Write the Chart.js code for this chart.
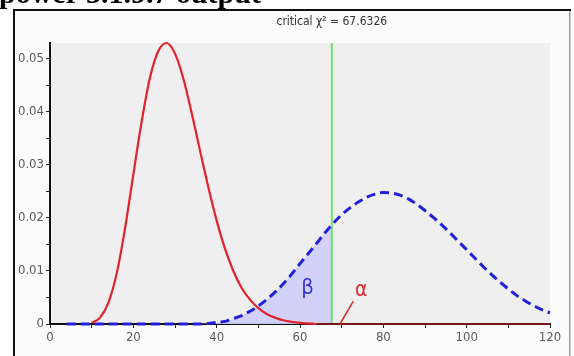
<!DOCTYPE html>
<html>
<head>
<meta charset="utf-8">
<script src="https://cdn.jsdelivr.net/npm/chart.js@4/dist/chart.umd.min.js"></script>
<style>
  html, body { margin: 0; padding: 0; background: #ffffff; }
  #wrap { position: relative; width: 574px; height: 356px; overflow: hidden; background: #ffffff; }
  #title { position: absolute; left: -1px; top: -22px; font-family: 'Liberation Serif', 'Times New Roman', serif; font-weight: bold; font-size: 30px; color: #000; white-space: nowrap; line-height: 29px; }
  canvas { position: absolute; left: 0; top: 0; }
</style>
</head>
<body>
<div id="wrap">
  <canvas id="c" width="574" height="356"></canvas>
  <div id="title">power 3.1.9.7 output</div>
</div>
<script>
// ---- data ----
const xValues = [0,2,4,6,8,10,12,14,16,18,20,22,24,26,28,30,32,34,36,38,40,42,44,46,48,50,52,54,56,58,60,62,64,66,68,70,72,74,76,78,80,82,84,86,88,90,92,94,96,98,100,102,104,106,108,110,112,114,116,118,120];
// central distribution (H0), red
const nullDensity = [null,null,null,null,null,0.0002,0.0012,0.0040,0.0095,0.0180,0.0282,0.0382,0.0465,0.0515,0.0530,0.0510,0.0463,0.0398,0.0327,0.0258,0.0195,0.0142,0.0100,0.0068,0.0046,0.0030,0.0019,0.0012,0.0007,0.0004,0.0002,0.0001,0,0,0,0,0,0,0,0,0,0,0,0,0,0,0,0,0,0,0,0,0,0,0,0,0,0,0,0,0];
// noncentral distribution (H1), blue dashed
const altDensity = [null,null,0,0,0,0,0,0,0,0,0,0,0,0,0,0,0,0,0,0.0001,0.0003,0.0005,0.0010,0.0016,0.0024,0.0034,0.0046,0.0060,0.0076,0.0094,0.0114,0.0133,0.0152,0.0172,0.0190,0.0206,0.0219,0.0230,0.0239,0.0245,0.0248,0.0247,0.0243,0.0236,0.0226,0.0214,0.0201,0.0187,0.0172,0.0156,0.0140,0.0124,0.0108,0.0093,0.0079,0.0066,0.0054,0.0044,0.0035,0.0027,0.0021];
const criticalX = 67.6326;
const altAtCritical = 0.0189;
const yTickLabels = ['0','0.01','0.02','0.03','0.04','0.05'];
const xTickLabels = ['0','20','40','60','80','100','120'];
const criticalLabel = 'critical \u03C7\u00B2 = 67.6326';
const betaLabel = '\u03B2';
const alphaLabel = '\u03B1';
const alphaPointer = [{x: 69.6, y: 0}, {x: 72.8, y: 0.0043}];
const betaPos = {x: 61.8, y: 0.0068};
const alphaPos = {x: 74.7, y: 0.0063};

// ---- build datasets ----
const toPoints = (vals) => xValues.map((x, i) => ({x, y: vals[i]}));
const betaPoints = xValues.map((x, i) => ({x, y: altDensity[i]})).filter(p => p.x < criticalX && p.y !== null);
betaPoints.push({x: criticalX, y: altAtCritical});
const Y_MAX = 0.053;

const FONT = "'Liberation Sans Narrow', 'DejaVu Sans Condensed', 'Arial Narrow', sans-serif";

const framePlugin = {
  id: 'frame',
  beforeDraw(chart) {
    const ctx = chart.ctx;
    const a = chart.chartArea;
    ctx.save();
    ctx.fillStyle = '#fcfcfc';
    ctx.fillRect(14, 10, 556, 346);
    ctx.fillStyle = '#efefef';
    ctx.fillRect(a.left, a.top, a.right - a.left, a.bottom - a.top);
    ctx.fillStyle = '#111';
    ctx.fillRect(13, 9, 558, 2);
    ctx.fillRect(13, 9, 2, 347);
    ctx.fillStyle = '#9a9a9a';
    ctx.fillRect(569, 11, 1.5, 345);
    ctx.restore();
  },
  afterDatasetsDraw(chart) {
    const ctx = chart.ctx;
    const xs = chart.scales.x, ys = chart.scales.y;
    ctx.save();
    ctx.font = "12px " + FONT;
    ctx.fillStyle = '#333';
    ctx.textAlign = 'center';
    ctx.textBaseline = 'middle';
    ctx.fillText(criticalLabel, xs.getPixelForValue(criticalX), 22);
    ctx.font = "22px " + FONT;
    ctx.fillStyle = '#3535d8';
    ctx.fillText(betaLabel, xs.getPixelForValue(betaPos.x), ys.getPixelForValue(betaPos.y));
    ctx.font = "21px " + FONT;
    ctx.fillStyle = '#e02a2a';
    ctx.fillText(alphaLabel, xs.getPixelForValue(alphaPos.x), ys.getPixelForValue(alphaPos.y));
    ctx.strokeStyle = '#e02a2a';
    ctx.lineWidth = 1.5;
    ctx.beginPath();
    ctx.moveTo(xs.getPixelForValue(alphaPointer[0].x), ys.getPixelForValue(alphaPointer[0].y));
    ctx.lineTo(xs.getPixelForValue(alphaPointer[1].x), ys.getPixelForValue(alphaPointer[1].y));
    ctx.stroke();
    ctx.restore();
  }
};

new Chart(document.getElementById('c'), {
  type: 'scatter',
  data: {
    datasets: [
      {
        label: 'beta',
        data: betaPoints,
        showLine: true,
        fill: 'origin',
        backgroundColor: 'rgba(206,206,250,0.92)',
        borderWidth: 0,
        pointRadius: 0,
        cubicInterpolationMode: 'monotone',
        order: 4
      },
      {
        label: 'H0',
        data: toPoints(nullDensity),
        showLine: true,
        borderColor: '#e3222c',
        borderWidth: 2.2,
        pointRadius: 0,
        fill: false,
        clip: false,
        cubicInterpolationMode: 'monotone',
        segment: {
          borderColor: (c) => (c.p0.parsed.y === 0 && c.p1.parsed.y === 0) ? '#7a1418' : undefined
        },
        order: 2
      },
      {
        label: 'H1',
        data: toPoints(altDensity),
        showLine: true,
        borderColor: '#2020dc',
        borderWidth: 3,
        borderDash: [9, 5],
        pointRadius: 0,
        fill: false,
        clip: false,
        cubicInterpolationMode: 'monotone',
        order: 1
      },
      {
        label: 'critical',
        data: [{x: criticalX, y: 0}, {x: criticalX, y: Y_MAX}],
        showLine: true,
        borderColor: '#6ee06e',
        borderWidth: 2,
        pointRadius: 0,
        fill: false,
        order: 3
      }
    ]
  },
  options: {
    responsive: false,
    animation: false,
    events: [],
    layout: { padding: { top: 43, right: 24, left: 0, bottom: 0 } },
    plugins: { legend: { display: false }, tooltip: { enabled: false } },
    scales: {
      x: {
        type: 'linear',
        min: 0, max: 120,
        afterFit(s) { s.height = 32; },
        border: { display: true, color: '#111', width: 2 },
        grid: { drawOnChartArea: false, drawTicks: true, tickLength: 4, color: '#222', lineWidth: 1 },
        ticks: {
          stepSize: 10,
          padding: 2,
          color: '#5a5a5a',
          font: { family: FONT, size: 13 },
          maxRotation: 0,
          autoSkip: false,
          callback(v) { const i = xTickLabels.indexOf(String(v)); return i >= 0 ? xTickLabels[i] : ''; }
        }
      },
      y: {
        type: 'linear',
        min: 0, max: Y_MAX,
        afterFit(s) { s.width = 50; },
        afterBuildTicks(s) { s.ticks = s.ticks.filter(t => t.value <= 0.0501); },
        border: { display: true, color: '#111', width: 2 },
        grid: { drawOnChartArea: false, drawTicks: true, tickLength: 4, color: '#222', lineWidth: 1 },
        ticks: {
          stepSize: 0.005,
          padding: 2,
          color: '#5a5a5a',
          font: { family: FONT, size: 13 },
          autoSkip: false,
          callback(v) {
            const k = Math.round(v * 100);
            if (Math.abs(v * 100 - k) > 1e-6) return '';
            return yTickLabels[k] !== undefined ? yTickLabels[k] : '';
          }
        }
      }
    }
  },
  plugins: [framePlugin]
});
</script>
</body>
</html>
